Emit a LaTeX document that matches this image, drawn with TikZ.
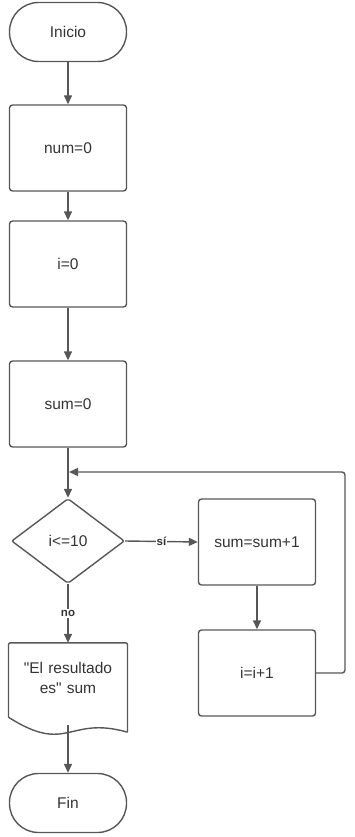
\documentclass[tikz,border=0pt]{standalone}
\usepackage{fontspec}
\setmainfont{Liberation Sans}
\usetikzlibrary{shapes.geometric, arrows.meta, positioning}
\definecolor{linea-gris}{HTML}{575757}
\definecolor{texto}{HTML}{333333}
\tikzstyle{startstop} = [rectangle, rounded corners=29pt, minimum width=117pt, minimum height=59pt, text centered, draw=linea-gris, text=texto, line width=1.4pt, font=\fontsize{15.5}{18}\selectfont]
\tikzstyle{process} = [rectangle, rounded corners=3pt, minimum width=117pt, minimum height=86pt, text centered, draw=linea-gris, text=texto, line width=1.4pt, font=\fontsize{15.5}{18}\selectfont]
\tikzstyle{decision} = [diamond, rounded corners=2pt, aspect=1.33, minimum width=113pt, minimum height=85pt, inner sep=0pt, text centered, draw=linea-gris, text=texto, line width=1.4pt, font=\fontsize{15.5}{18}\selectfont]
\tikzstyle{io} = [rectangle, minimum width=117pt, minimum height=70pt, text width=112pt, align=center, text=texto, font=\fontsize{15.5}{19.5}\selectfont]
\tikzstyle{etiqueta} = [fill=white, inner sep=1pt, text=texto, font=\fontsize{11.5}{13}\selectfont\bfseries]
\tikzstyle{arrow} = [line width=1.4pt, draw=linea-gris, -{Triangle[length=9pt, width=8pt]}]

\begin{document}
\begin{tikzpicture}[x=1pt, y=-1pt]
    \useasboundingbox (0,0) rectangle (355,837);

    % ===============================
    % 1. NODES
    % ===============================

    % Inicio
    \node[startstop] (inicio) at (68, 32) {Inicio};

    % Asignaciones
    \node[process] (num) at (68, 148) {num=0};
    \node[process] (ival) at (68, 264) {i=0};
    \node[process] (suma) at (68, 404) {sum=0};

    % Punto de union del ciclo
    \coordinate (union) at (69, 472);
    \coordinate (retorno) at (345, 472);

    % Condicion
    \node[decision] (cond) at (68, 541) {i<=10};

    % Cuerpo del ciclo
    \node[process] (incsum) at (257, 542) {sum=sum+1};
    \node[process] (inci) at (257, 673) {i=i+1};

    % Salida (documento)
    \node[io] (salida) at (68, 678) {\textquotedbl El resultado es\textquotedbl{} sum};
    \draw[line width=1.4pt, draw=linea-gris, rounded corners=2pt]
        ([yshift=-4pt]salida.south west) -- (salida.north west) -- (salida.north east)
        -- ([yshift=-19pt]salida.south east);
    \draw[line width=1.4pt, draw=linea-gris]
        ([yshift=-19pt]salida.south east)
        .. controls ([yshift=-2pt]salida.south) and ([yshift=-42pt]salida.south) ..
        ([yshift=-4pt]salida.south west);

    % Fin
    \node[startstop] (fin) at (68, 803) {Fin};

    % ===============================
    % 2. CONNECTIONS
    % ===============================

    \draw[arrow] (inicio) -- (num);
    \draw[arrow] (num) -- (ival);
    \draw[arrow] (ival) -- (suma);
    \draw[arrow] (suma) -- (cond);

    % Rama si
    \draw[arrow] (cond.east) -- node[etiqueta] {sí} (incsum.west);
    \draw[arrow] (incsum) -- (inci);
    \draw[arrow, rounded corners=3pt] (inci.east) -| (retorno) -- (union);

    % Rama no
    \draw[arrow] (cond.south) -- node[etiqueta] {no} (salida.north);
    \draw[arrow] ([yshift=-12pt]salida.south) -- (fin);

\end{tikzpicture}
\end{document}
